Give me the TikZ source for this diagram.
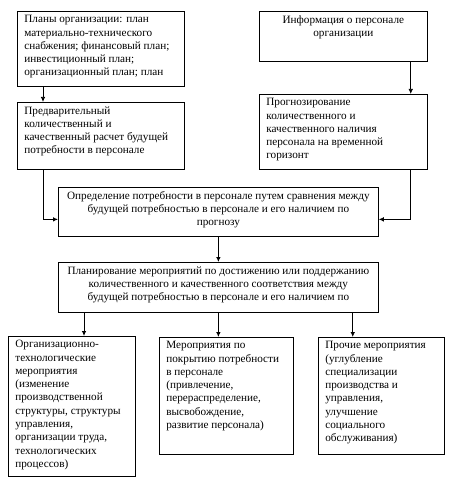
\documentclass[tikz,border=0pt]{standalone}
\usepackage{fontspec}
\setmainfont{Liberation Serif}
\usetikzlibrary{arrows.meta}
\newcommand{\boxtxt}[4]{\parbox[c][#2][t]{#1}{#3#4}}
\newcommand{\lefttxt}{\raggedright\leftskip=5pt}

\begin{document}
\begin{tikzpicture}[x=1pt,y=-1pt,line width=0.75pt,
  box/.style={draw, anchor=north west, inner xsep=2pt, inner ysep=4pt, font=\fontsize{11.2}{13.3}\selectfont},
  arr/.style={-{Latex[length=5pt,width=4.5pt]}}]
\useasboundingbox (0,0) rectangle (460,481);
\node[box] (plans) at (17,11) {\boxtxt{163pt}{67pt}{\lefttxt}{Планы организации: план\\ материально-технического\\ снабжения; финансовый план;\\ инвестиционный план;\\ организационный план; план}};
\node[box] (prelim) at (17,102) {\boxtxt{163pt}{59pt}{\lefttxt}{Предварительный\\ количественный и\\ качественный расчет будущей\\ потребности в персонале}};
\node[box] (info) at (259,11) {\boxtxt{164pt}{42pt}{\centering}{Информация о персонале\\ организации}};
\node[box] (forecast) at (259,94) {\boxtxt{164pt}{67pt}{\lefttxt}{Прогнозирование\\ количественного и\\ качественного наличия\\ персонала на временной\\ горизонт}};
\node[box] (compare) at (58,187) {\boxtxt{316pt}{41pt}{\centering}{Определение потребности в персонале путем сравнения между\\ будущей потребностью в персонале и его наличием по\\ прогнозу}};
\node[box] (planning) at (58,262) {\boxtxt{316pt}{42pt}{\centering}{Планирование мероприятий по достижению или поддержанию\\ количественного и качественного соответствия между\\ будущей потребностью в персонале и его наличием по}};
\node[box] (orgtech) at (8,336) {\boxtxt{123pt}{132pt}{\lefttxt}{Организационно-\\ технологические\\ мероприятия\\ (изменение\\ производственной\\ структуры, структуры\\ управления,\\ организации труда,\\ технологических\\ процессов)}};
\node[box] (cover) at (159,337) {\boxtxt{130pt}{109pt}{\lefttxt}{Мероприятия по\\ покрытию потребности\\ в персонале\\ (привлечение,\\ перераспределение,\\ высвобождение,\\ развитие персонала)}};
\node[box] (other) at (318,337) {\boxtxt{122pt}{109pt}{\lefttxt}{Прочие мероприятия\\ (углубление\\ специализации\\ производства и\\ управления,\\ улучшение\\ социального\\ обслуживания)}};
\draw[arr] ([xshift=26pt]plans.south west) -- ([xshift=26pt]prelim.north west);
\draw[arr] ([xshift=-17pt]info.south east) -- ([xshift=-17pt]forecast.north east);
\draw[arr] ([xshift=26pt]prelim.south west) |- ([yshift=-7.5pt]compare.west);
\draw[arr] ([xshift=-17pt]forecast.south east) |- ([yshift=-7.5pt]compare.east);
\draw[arr] (compare.south) -- (planning.north);
\draw[arr] ([xshift=26pt]planning.south west) -- ([xshift=26pt]planning.south west |- orgtech.north);
\draw[arr] (planning.south) -- (planning.south |- cover.north);
\draw[arr] ([xshift=-26pt]planning.south east) -- ([xshift=-26pt]planning.south east |- other.north);
\end{tikzpicture}
\end{document}
